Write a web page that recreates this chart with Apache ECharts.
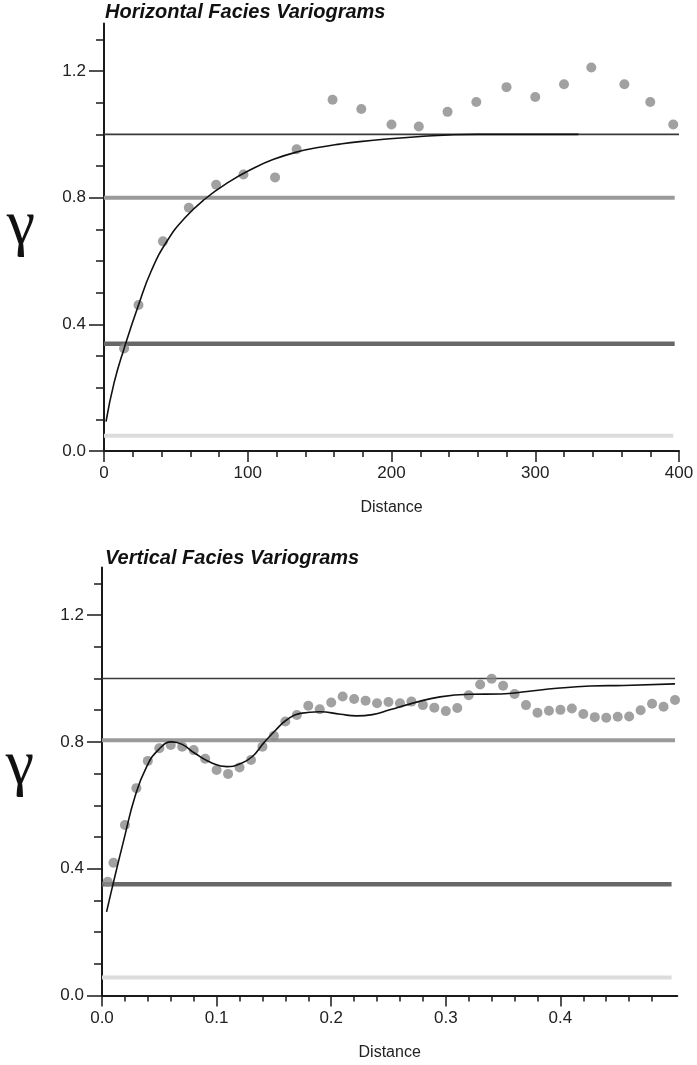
<!DOCTYPE html>
<html>
<head>
<meta charset="utf-8">
<script src="https://cdn.jsdelivr.net/npm/echarts@6/dist/echarts.min.js"></script>
<style>
html, body { margin: 0; padding: 0; background: #fff; }
#chart { width: 697px; height: 1065px; }
</style>
</head>
<body>
<div id="chart"></div>
<script>
// ---- Horizontal facies variogram ----
const hLag   = [14, 24, 41, 59, 78, 97, 119, 134, 159, 179, 200, 219, 239, 259, 280, 300, 320, 339, 362, 380, 396];
const hGamma = [0.324, 0.461, 0.662, 0.768, 0.841, 0.873, 0.864, 0.953, 1.109, 1.080, 1.031, 1.025, 1.071, 1.102, 1.149, 1.118, 1.158, 1.211, 1.158, 1.102, 1.031];

// fitted model curve
const hModelLag   = [1.4, 7, 14, 24, 33, 44, 56, 70, 87, 104, 118, 134, 150, 164, 178, 199, 220, 240, 260, 330];
const hModelGamma = [0.093, 0.215, 0.324, 0.461, 0.570, 0.664, 0.735, 0.795, 0.850, 0.893, 0.921, 0.944, 0.959, 0.969, 0.977, 0.986, 0.993, 0.998, 1.000, 1.000];

// sill / structure levels and where each line stops
const hRefLevels = [1.0, 0.8, 0.339, 0.048];
const hRefEnd    = [400, 397, 397, 396];

// ---- Vertical facies variogram ----
const vLag = [0.005, 0.01, 0.02, 0.03, 0.04, 0.05, 0.06, 0.07, 0.08, 0.09,
              0.10, 0.11, 0.12, 0.13, 0.14, 0.15, 0.16, 0.17, 0.18, 0.19,
              0.20, 0.21, 0.22, 0.23, 0.24, 0.25, 0.26, 0.27, 0.28, 0.29,
              0.30, 0.31, 0.32, 0.33, 0.34, 0.35, 0.36, 0.37, 0.38, 0.39,
              0.40, 0.41, 0.42, 0.43, 0.44, 0.45, 0.46, 0.47, 0.48, 0.49, 0.50];
const vGamma = [0.359, 0.419, 0.538, 0.654, 0.740, 0.780, 0.790, 0.785, 0.774, 0.747,
                0.711, 0.699, 0.719, 0.743, 0.785, 0.819, 0.864, 0.885, 0.914, 0.903,
                0.924, 0.943, 0.935, 0.930, 0.922, 0.926, 0.922, 0.927, 0.916, 0.908,
                0.897, 0.907, 0.947, 0.981, 0.999, 0.977, 0.951, 0.916, 0.892, 0.898,
                0.901, 0.905, 0.888, 0.878, 0.876, 0.879, 0.880, 0.900, 0.920, 0.911, 0.932];

const vModelLag   = [0.004, 0.010, 0.019, 0.029, 0.039, 0.049, 0.061, 0.070, 0.081, 0.095,
                     0.109, 0.120, 0.131, 0.141, 0.151, 0.161, 0.173, 0.190, 0.208, 0.222,
                     0.236, 0.251, 0.272, 0.295, 0.321, 0.348, 0.371, 0.397, 0.426, 0.455, 0.500];
const vModelGamma = [0.264, 0.357, 0.490, 0.630, 0.722, 0.774, 0.800, 0.792, 0.764, 0.735,
                     0.722, 0.730, 0.753, 0.796, 0.835, 0.869, 0.890, 0.895, 0.887, 0.882,
                     0.886, 0.901, 0.923, 0.942, 0.950, 0.951, 0.959, 0.969, 0.976, 0.978, 0.983];

const vRefLevels = [1.0, 0.805, 0.351, 0.057];
const vRefEnd    = [0.500, 0.500, 0.497, 0.497];

// ---- Axis ticks ----
const gammaMajorTicks = [0, 0.4, 0.8, 1.2];
const gammaMinorTicks = [0.1, 0.2, 0.3, 0.5, 0.6, 0.7, 0.9, 1.0, 1.1, 1.3];
const hDistMajorTicks = [0, 100, 200, 300, 400];
const hDistMinorTicks = [20, 40, 60, 80, 120, 140, 160, 180, 220, 240, 260, 280, 320, 340, 360, 380];
const vDistMajorTicks = [0, 0.1, 0.2, 0.3, 0.4];
const vDistMinorTicks = [0.02, 0.04, 0.06, 0.08, 0.12, 0.14, 0.16, 0.18, 0.22, 0.24, 0.26, 0.28,
                         0.32, 0.34, 0.36, 0.38, 0.42, 0.44, 0.46, 0.48];

const titles = ['Horizontal Facies Variograms', 'Vertical Facies Variograms'];

// ---- Styling ----
const AXIS_COLOR = '#1a1a1a';
const LABEL_FONT = 'Liberation Sans';
const DOT_COLOR = '#8a8a8a';
const refStyles = [
  { color: '#3a3a3a', width: 1.6 },
  { color: '#9a9a9a', width: 4 },
  { color: '#686868', width: 4.5 },
  { color: '#dcdcdc', width: 4 }
];

const xRange = [{ min: 0, max: 400 }, { min: 0, max: 0.502 }];
const yRange = { min: 0, max: 1.35 };

function xAxes(g, major, minor, fmt) {
  const base = { type: 'value', gridIndex: g, min: xRange[g].min, max: xRange[g].max,
                 position: 'bottom', splitLine: { show: false } };
  return [
    Object.assign({}, base, {
      name: 'Distance', nameLocation: 'middle', nameGap: 49,
      nameTextStyle: { fontFamily: LABEL_FONT, fontSize: 16, color: '#222' },
      axisLine: { show: true, onZero: false, lineStyle: { color: AXIS_COLOR, width: 2 } },
      axisTick: { show: true, customValues: major, length: 11, lineStyle: { color: AXIS_COLOR, width: 1.5 } },
      axisLabel: { show: true, customValues: major, margin: 14, formatter: fmt,
                   fontFamily: LABEL_FONT, fontSize: 17, color: '#222' }
    }),
    Object.assign({}, base, {
      axisLine: { show: false, onZero: false },
      axisTick: { show: true, customValues: minor, length: 6, lineStyle: { color: AXIS_COLOR, width: 1.5 } },
      axisLabel: { show: false }
    })
  ];
}

function yAxes(g) {
  const base = { type: 'value', gridIndex: g, min: yRange.min, max: yRange.max,
                 position: 'left', splitLine: { show: false } };
  return [
    Object.assign({}, base, {
      axisLine: { show: true, onZero: false, lineStyle: { color: AXIS_COLOR, width: 2 } },
      axisTick: { show: true, customValues: gammaMajorTicks, length: 15, lineStyle: { color: AXIS_COLOR, width: 1.5 } },
      axisLabel: { show: true, customValues: gammaMajorTicks, margin: 18,
                   formatter: v => v.toFixed(1), padding: [0, 0, 8, 0],
                   fontFamily: LABEL_FONT, fontSize: 17, color: '#222' }
    }),
    Object.assign({}, base, {
      axisLine: { show: false, onZero: false },
      axisTick: { show: true, customValues: gammaMinorTicks, length: 8, lineStyle: { color: AXIS_COLOR, width: 1.5 } },
      axisLabel: { show: false }
    })
  ];
}

function zip(a, b) { return a.map((v, i) => [v, b[i]]); }

function panelSeries(g, lag, gamma, mLag, mGamma, levels, ends) {
  const xi = g * 2, yi = g * 2;
  const out = [];
  levels.forEach((lvl, i) => {
    out.push({
      type: 'line', xAxisIndex: xi, yAxisIndex: yi, silent: true, z: 2,
      symbol: 'none', data: [[0, lvl], [ends[i], lvl]],
      lineStyle: { color: refStyles[i].color, width: refStyles[i].width }
    });
  });
  out.push({
    type: 'scatter', xAxisIndex: xi, yAxisIndex: yi, z: 3,
    symbol: 'circle', symbolSize: 10, data: zip(lag, gamma),
    itemStyle: { color: DOT_COLOR }
  });
  out.push({
    type: 'line', xAxisIndex: xi, yAxisIndex: yi, z: 4,
    symbol: 'none', smooth: 0.5, data: zip(mLag, mGamma),
    lineStyle: { color: '#111', width: 1.6 }
  });
  return out;
}

const chart = echarts.init(document.getElementById('chart'), null, { renderer: 'canvas' });

chart.setOption({
  animation: false,
  backgroundColor: '#fff',
  title: [
    { text: titles[0], left: 105, top: 2, padding: 0,
      textStyle: { fontFamily: LABEL_FONT, fontSize: 20, fontWeight: 'bold', fontStyle: 'italic', color: '#111' } },
    { text: titles[1], left: 105, top: 548, padding: 0,
      textStyle: { fontFamily: LABEL_FONT, fontSize: 20, fontWeight: 'bold', fontStyle: 'italic', color: '#111' } }
  ],
  grid: [
    { left: 104, right: 18, top: 23.5, bottom: 614 },
    { left: 102, right: 19.7, top: 567.5, bottom: 69.5 }
  ],
  xAxis: [].concat(
    xAxes(0, hDistMajorTicks, hDistMinorTicks, v => String(Math.round(v))),
    xAxes(1, vDistMajorTicks, vDistMinorTicks, v => v.toFixed(1))
  ),
  yAxis: [].concat(yAxes(0), yAxes(1)),
  graphic: [
    { type: 'text', x: 21, y: 226,
      style: { text: 'γ', font: '64px "Liberation Serif"', fill: '#111',
               align: 'center', verticalAlign: 'middle', textAlign: 'center', textVerticalAlign: 'middle' } },
    { type: 'text', x: 20, y: 766,
      style: { text: 'γ', font: '64px "Liberation Serif"', fill: '#111',
               align: 'center', verticalAlign: 'middle', textAlign: 'center', textVerticalAlign: 'middle' } }
  ],
  series: [].concat(
    panelSeries(0, hLag, hGamma, hModelLag, hModelGamma, hRefLevels, hRefEnd),
    panelSeries(1, vLag, vGamma, vModelLag, vModelGamma, vRefLevels, vRefEnd)
  )
});
</script>
</body>
</html>
